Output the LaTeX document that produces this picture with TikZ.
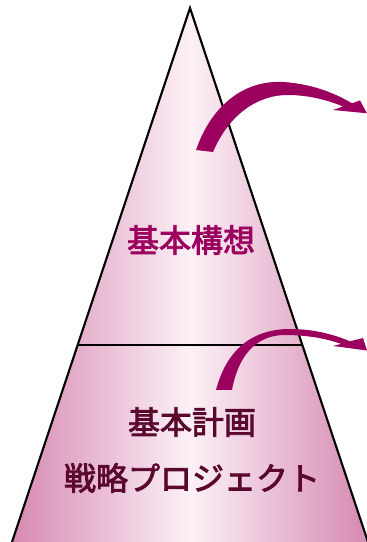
\documentclass[tikz,border=0pt]{standalone}
\usepackage{fontspec}
\newfontfamily\jpfont[FakeBold=2.6]{Noto Sans CJK JP}
\usetikzlibrary{calc}
\definecolor{pyrpink}{RGB}{214,137,178}
\definecolor{pyrwhite}{RGB}{252,241,246}
\definecolor{arrowmag}{RGB}{155,0,95}
\definecolor{planmaroon}{RGB}{90,8,45}

\tikzset{
  layertext/.style={font=\jpfont\fontsize{32}{32}\selectfont, inner sep=0pt},
  bentarrow/.style={fill=arrowmag, draw=none},
}

\begin{document}
\begin{tikzpicture}[x=1pt, y=1pt]
  \useasboundingbox (0,0) rectangle (367,542);
  \clip (0,0) rectangle (367,542);

  % Pyramid
  \coordinate (apex) at (190,534);
  \coordinate (baseL) at (12,0);
  \coordinate (baseR) at (368,0);
  \shade[left color=pyrpink, right color=pyrpink, middle color=pyrwhite]
    (apex) -- (baseR) -- (baseL) -- cycle;
  \draw[line width=2.2pt, line join=miter] (baseL) -- (apex) -- (baseR);

  % Divider between the two layers
  \coordinate (divL) at ($(apex)!0.631!(baseL)$);
  \coordinate (divR) at ($(apex)!0.631!(baseR)$);
  \draw[line width=1.8pt] (divL) -- (divR);

  % Labels
  \node[layertext, text=arrowmag] (vision) at (191,302) {基本構想};
  \node[layertext, text=planmaroon] (plan) at (192,120) {基本計画};
  \node[layertext, text=planmaroon] (project) at (192,64) {戦略プロジェクト};

  % Upper bent arrow
  \fill[bentarrow] (196,392) .. controls (212,438) and (245,462) .. (283,460)
    .. controls (315,458) and (338,447) .. (352,438.7)
    -- (360,441.5) -- (367,428.7) -- (333,432) -- (343,435.5)
    .. controls (330,441) and (310,447) .. (288,447)
    .. controls (255,447) and (228,425) .. (213,390) -- cycle;

  % Lower bent arrow
  \fill[bentarrow] (216,152) .. controls (226,190) and (250,213) .. (290,213)
    .. controls (315,213) and (335,207) .. (350,200.7)
    -- (363,204) -- (367,191.5) -- (333,196) -- (341,198.1)
    .. controls (325,204) and (305,207) .. (285,207)
    .. controls (255,207) and (238,185) .. (232,152) -- cycle;
\end{tikzpicture}
\end{document}
